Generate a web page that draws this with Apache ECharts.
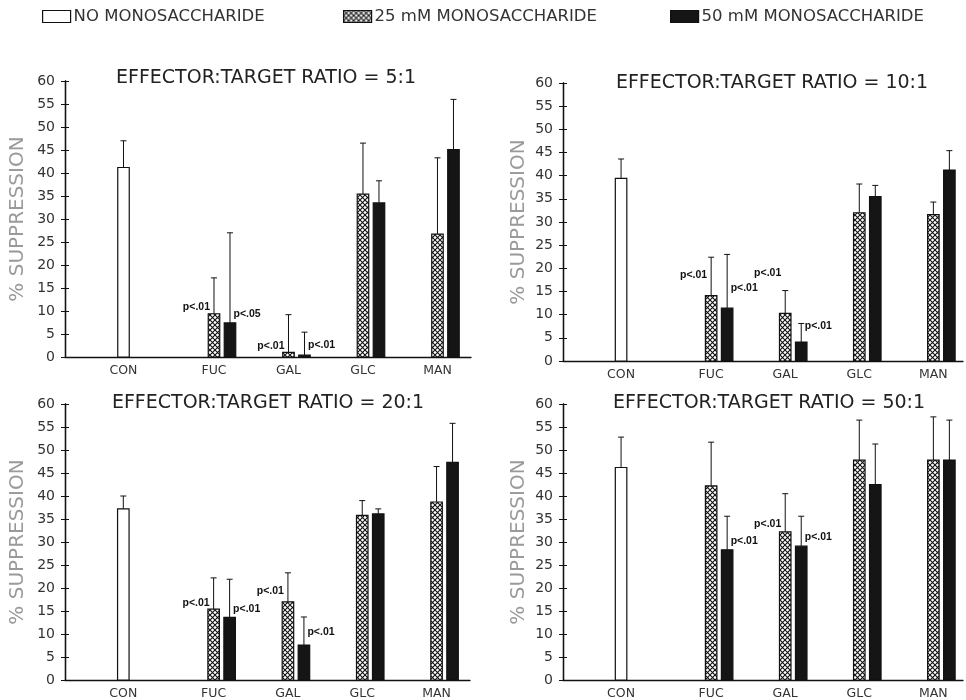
<!DOCTYPE html>
<html>
<head>
<meta charset="utf-8">
<script src="https://cdn.jsdelivr.net/npm/echarts@6/dist/echarts.min.js"></script>
<style>
  html, body { margin: 0; padding: 0; background: #fff; }
  #chart { width: 966px; height: 700px; }
</style>
</head>
<body>
<div id="chart"></div>
<script>
// Categories on the x axis and the effector:target ratios (one panel each)
const categories = ['CON', 'FUC', 'GAL', 'GLC', 'MAN'];
const sugars = ['FUC', 'GAL', 'GLC', 'MAN'];
const ratios = ['5:1', '10:1', '20:1', '50:1'];
const seriesNames = ['NO MONOSACCHARIDE', '25 mM MONOSACCHARIDE', '50 mM MONOSACCHARIDE'];

// Control wells (no monosaccharide): mean % suppression and SD, per ratio
const conMean = [41.2, 39.4, 37.2, 46.2];
const conSD = [5.8, 4.2, 2.8, 6.6];

// 25 mM monosaccharide, rows = ratio, columns = FUC, GAL, GLC, MAN
const mean25 = [
  [9.4, 1.0, 35.4, 26.7],
  [14.1, 10.3, 32.0, 31.6],
  [15.4, 17.0, 35.8, 38.7],
  [42.2, 32.2, 47.8, 47.8]
];
const sd25 = [
  [7.8, 8.2, 11.1, 16.6],
  [8.3, 4.9, 6.2, 2.7],
  [6.8, 6.3, 3.2, 7.7],
  [9.5, 8.3, 8.7, 9.4]
];

// 50 mM monosaccharide, rows = ratio, columns = FUC, GAL, GLC, MAN
const mean50 = [
  [7.4, 0.4, 33.5, 45.1],
  [11.4, 4.1, 35.5, 41.2],
  [13.6, 7.6, 36.1, 47.3],
  [28.3, 29.1, 42.5, 47.8]
];
const sd50 = [
  [19.6, 5.0, 4.8, 10.9],
  [11.6, 4.0, 2.4, 4.2],
  [8.3, 6.1, 1.1, 8.5],
  [7.3, 6.5, 8.8, 8.7]
];

// Significance notes: [ratio index, sugar, dose (mM), text, % level of the note]
const pNotes = [
  [0, 'FUC', 25, 'p<.01', 10.9], [0, 'FUC', 50, 'p<.05', 9.4],
  [0, 'GAL', 25, 'p<.01', 2.4], [0, 'GAL', 50, 'p<.01', 2.5],
  [1, 'FUC', 25, 'p<.01', 18.5], [1, 'FUC', 50, 'p<.01', 15.7],
  [1, 'GAL', 25, 'p<.01', 19.0], [1, 'GAL', 50, 'p<.01', 7.5],
  [2, 'FUC', 25, 'p<.01', 16.8], [2, 'FUC', 50, 'p<.01', 15.4],
  [2, 'GAL', 25, 'p<.01', 19.3], [2, 'GAL', 50, 'p<.01', 10.4],
  [3, 'FUC', 50, 'p<.01', 30.3],
  [3, 'GAL', 25, 'p<.01', 33.8], [3, 'GAL', 50, 'p<.01', 31.0]
];

// ---- styling ----
const FONT = 'DejaVu Sans';
const INK = '#111';

// cross-hatch fill for the 25 mM bars
function makeHatch() {
  const s = 5;
  const c = document.createElement('canvas');
  c.width = s; c.height = s;
  const g = c.getContext('2d');
  g.fillStyle = '#fff';
  g.fillRect(0, 0, s, s);
  g.strokeStyle = '#111';
  g.lineWidth = 1.1;
  g.beginPath();
  g.moveTo(0, 0); g.lineTo(s, s);
  g.moveTo(0, s); g.lineTo(s, 0);
  g.stroke();
  return { image: c, repeat: 'repeat' };
}
const hatch = makeHatch();
const fills = ['#fff', hatch, '#151515'];
const barShift = [-16, 0, 16];   // px offset of each dose inside a group
const BAR_W = 11.5;

const panelRects = [
  { left: 65, top: 81, width: 406, height: 276 },
  { left: 563, top: 83, width: 402, height: 278 },
  { left: 65, top: 404, width: 405, height: 276 },
  { left: 563, top: 404, width: 402, height: 276 }
];
const xMax = [4.45, 4.4, 4.45, 4.4];
const titlePos = [
  { x: 266, y: 69 }, { x: 772, y: 74 }, { x: 268, y: 394 }, { x: 769, y: 394 }
];
const nameGaps = [37, 34, 37, 34];

function barRenderer(kind) {
  return function (params, api) {
    const x = api.value(0), v = api.value(1), e = api.value(2);
    const base = api.coord([x, 0]);
    const top = api.coord([x, v]);
    const tip = api.coord([x, v + e]);
    const cx = base[0] + barShift[kind];
    return {
      type: 'group',
      children: [
        { type: 'line', shape: { x1: cx, y1: top[1], x2: cx, y2: tip[1] },
          style: { stroke: INK, lineWidth: 1 } },
        { type: 'line', shape: { x1: cx - 3, y1: tip[1], x2: cx + 3, y2: tip[1] },
          style: { stroke: INK, lineWidth: 1 } },
        { type: 'rect',
          shape: { x: cx - BAR_W / 2, y: top[1], width: BAR_W, height: base[1] - top[1] },
          style: { fill: fills[kind], stroke: INK, lineWidth: 1.2 } }
      ]
    };
  };
}

function noteRenderer(notes) {
  return function (params, api) {
    const n = notes[params.dataIndex];
    const p = api.coord([api.value(0), api.value(1)]);
    const left = n[2] === 25;
    return {
      type: 'text',
      x: left ? p[0] - 4 : p[0] + barShift[2] + 3.5,
      y: p[1],
      style: {
        text: n[3], fill: INK, fontSize: 10.5, fontWeight: 'bold',
        fontFamily: 'Liberation Sans', align: left ? 'right' : 'left', verticalAlign: 'middle'
      }
    };
  };
}

const title = [], grid = [], xAxis = [], yAxis = [], series = [];

ratios.forEach((r, i) => {
  title.push({
    text: 'EFFECTOR:TARGET RATIO = ' + r,
    left: titlePos[i].x, top: titlePos[i].y, textAlign: 'center', padding: 0,
    textStyle: { fontFamily: FONT, fontSize: 19, fontWeight: 'normal', color: '#222' }
  });
  grid.push(Object.assign({ containLabel: false }, panelRects[i]));
  xAxis.push({
    type: 'value', gridIndex: i, min: -1, max: xMax[i], interval: 1,
    axisLine: { show: true, onZero: false, lineStyle: { color: INK, width: 1.3 } },
    axisTick: { show: false }, splitLine: { show: false },
    axisLabel: {
      margin: 7, fontFamily: FONT, fontSize: 12.5, color: '#333',
      formatter: v => {
        const c = Number.isInteger(v) ? categories[v] : undefined;
        if (!c) return '';
        return c === 'CON' ? '{con|' + c + '}' : c;
      },
      rich: { con: { fontFamily: FONT, fontSize: 12.5, color: '#333', padding: [0, 32, 0, 0] } }
    }
  });
  yAxis.push({
    type: 'value', gridIndex: i, min: 0, max: 60, interval: 5, position: 'left',
    name: '% SUPPRESSION', nameLocation: 'middle', nameGap: nameGaps[i],
    nameTextStyle: { fontFamily: FONT, fontSize: 20, color: '#9a9a9a' },
    axisLine: { show: true, onZero: false, lineStyle: { color: INK, width: 1.3 } },
    axisTick: { show: true, length: 4, lineStyle: { color: INK, width: 1 } },
    splitLine: { show: false },
    axisLabel: { margin: 10, fontFamily: FONT, fontSize: 14, color: '#333' }
  });

  const common = { type: 'custom', xAxisIndex: i, yAxisIndex: i, clip: false };
  series.push(Object.assign({}, common, {
    name: seriesNames[0], itemStyle: { color: '#fff', borderColor: INK, borderWidth: 1.2 },
    renderItem: barRenderer(0),
    data: [[0, conMean[i], conSD[i]]]
  }));
  series.push(Object.assign({}, common, {
    name: seriesNames[1], itemStyle: { color: hatch, borderColor: INK, borderWidth: 1.2 },
    renderItem: barRenderer(1),
    data: sugars.map((s, k) => [k + 1, mean25[i][k], sd25[i][k]])
  }));
  series.push(Object.assign({}, common, {
    name: seriesNames[2], itemStyle: { color: '#151515', borderColor: INK, borderWidth: 1.2 },
    renderItem: barRenderer(2),
    data: sugars.map((s, k) => [k + 1, mean50[i][k], sd50[i][k]])
  }));
  const notes = pNotes.filter(n => n[0] === i);
  series.push(Object.assign({}, common, {
    name: 'significance', silent: true,
    renderItem: noteRenderer(notes),
    data: notes.map(n => [categories.indexOf(n[1]), n[4]])
  }));
});

// overlay grids: same rectangles, y axis with inward ticks so each tick crosses the axis line
ratios.forEach((r, i) => {
  const gi = ratios.length + i;
  grid.push(Object.assign({ containLabel: false }, panelRects[i]));
  xAxis.push({ type: 'value', gridIndex: gi, min: -1, max: xMax[i], show: false });
  yAxis.push({
    type: 'value', gridIndex: gi, min: 0, max: 60, interval: 5, position: 'left',
    axisLine: { show: true, onZero: false, lineStyle: { color: INK, width: 1.3 } },
    axisTick: { show: true, inside: true, length: 4, lineStyle: { color: INK, width: 1 } },
    axisLabel: { show: false }, splitLine: { show: false }
  });
});

const legendBase = {
  top: 8, padding: 0, icon: 'rect', itemWidth: 28, itemHeight: 12, itemGap: 0,
  selectedMode: false,
  textStyle: { fontFamily: FONT, fontSize: 16.5, color: '#333', padding: [0, 0, 0, -2] }
};
const legend = [
  Object.assign({}, legendBase, { left: 42, data: [{ name: seriesNames[0], itemStyle: { color: '#fff', borderColor: INK, borderWidth: 1.2 } }] }),
  Object.assign({}, legendBase, { left: 343, data: [{ name: seriesNames[1], itemStyle: { color: hatch, borderColor: INK, borderWidth: 1.2 } }] }),
  Object.assign({}, legendBase, { left: 670, data: [{ name: seriesNames[2], itemStyle: { color: '#151515', borderColor: INK, borderWidth: 1.2 } }] })
];

const chart = echarts.init(document.getElementById('chart'), null, { renderer: 'canvas' });
chart.setOption({
  backgroundColor: '#fff',
  animation: false,
  title, legend, grid, xAxis, yAxis, series
});
</script>
</body>
</html>
